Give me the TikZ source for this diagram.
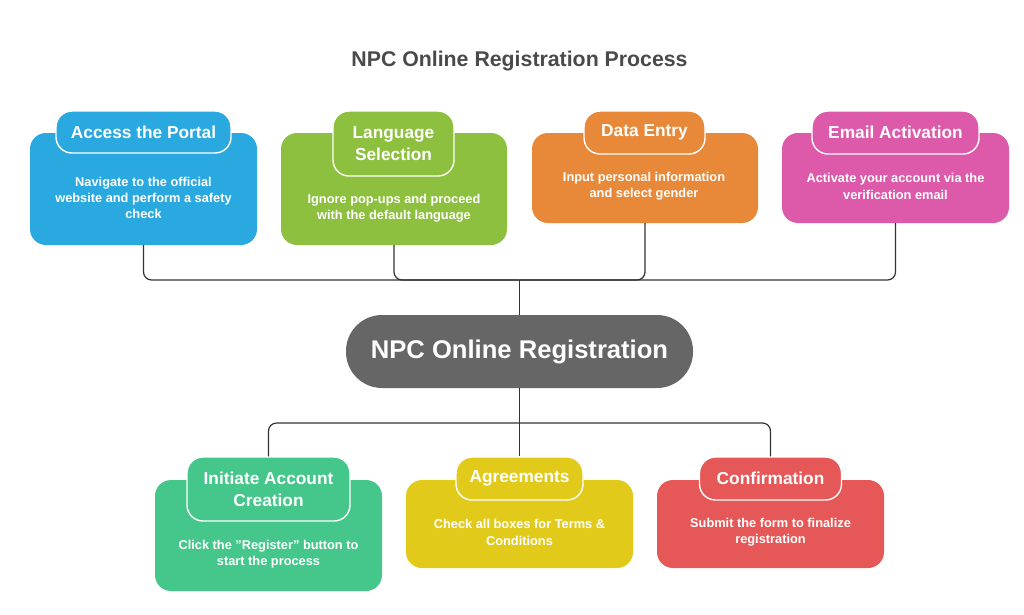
\documentclass[tikz,border=0pt]{standalone}
\usepackage{fontspec}
\setmainfont{Liberation Sans}
\definecolor{cBlue}{HTML}{2AA9E0}
\definecolor{cGreen}{HTML}{8DC03F}
\definecolor{cOrange}{HTML}{E8893A}
\definecolor{cPink}{HTML}{DD5AAB}
\definecolor{cTeal}{HTML}{45C68A}
\definecolor{cYellow}{HTML}{E2CA1B}
\definecolor{cRed}{HTML}{E65858}
\definecolor{cGray}{HTML}{666666}
\definecolor{cTitle}{HTML}{4A4A4A}
\definecolor{cLine}{HTML}{333333}
\begin{document}
\begin{tikzpicture}[x=1pt,y=-1pt,
  body/.style={draw=none, rounded corners=16pt, inner sep=0pt},
  tab/.style={draw=white, line width=1.4pt, rounded corners=16pt, inner sep=0pt, text=white, font=\bfseries\fontsize{17.3}{22}\selectfont, align=center},
  desc/.style={text=white, inner sep=0pt, font=\bfseries\fontsize{12.8}{16.3}\selectfont, align=center},
  conn/.style={draw=cLine, line width=1.2pt, rounded corners=8pt}]
\useasboundingbox[fill=white] (0,0) rectangle (1024,614);

\node[text=cTitle, font=\bfseries\fontsize{21.3}{25}\selectfont] (title) at (519.5,61) {NPC Online Registration Process};

% top row
\node[body, fill=cBlue, minimum width=227pt, minimum height=112pt] (b1) at (143.5,189) {};
\node[tab, fill=cBlue, minimum width=175pt, minimum height=42pt] (t1) at (143.5,132) {Access the Portal};
\node[desc] (d1) at (143.5,198) {Navigate to the official\\website and perform a safety\\check};

\node[body, fill=cGreen, minimum width=226pt, minimum height=112pt] (b2) at (394,189) {};
\node[tab, fill=cGreen, minimum width=121pt, minimum height=65pt] (t2) at (393.5,143.5) {Language\\Selection};
\node[desc] (d2) at (394,208) {Ignore pop-ups and proceed\\with the default language};

\node[body, fill=cOrange, minimum width=226pt, minimum height=90pt] (b3) at (645,178) {};
\node[tab, fill=cOrange, minimum width=121pt, minimum height=43pt] (t3) at (644.5,132.5) {Data Entry};
\node[desc] (d3) at (644,186.5) {Input personal information\\and select gender};

\node[body, fill=cPink, minimum width=227pt, minimum height=90pt] (b4) at (895.5,178) {};
\node[tab, fill=cPink, minimum width=167pt, minimum height=43pt] (t4) at (895.5,132.5) {Email Activation};
\node[desc] (d4) at (895.5,186.5) {Activate your account via the\\verification email};

% center
\node[fill=cGray, rounded corners=36pt, minimum width=347pt, minimum height=73pt, inner sep=0pt, text=white, font=\bfseries\fontsize{25.6}{30}\selectfont] (c) at (519.5,351.5) {NPC Online Registration};

% bottom row
\node[body, fill=cTeal, minimum width=227pt, minimum height=111pt] (b5) at (268.5,535.5) {};
\node[tab, fill=cTeal, minimum width=163pt, minimum height=64pt] (t5) at (268.5,489) {Initiate Account\\Creation};
\node[desc] (d5) at (268.5,554.5) {Click the \symbol{34}Register\symbol{34} button to\\start the process};

\node[body, fill=cYellow, minimum width=227pt, minimum height=88pt] (b6) at (519.5,524) {};
\node[tab, fill=cYellow, minimum width=127pt, minimum height=43pt] (t6) at (519.5,478.5) {Agreements};
\node[desc] (d6) at (519.5,532.5) {Check all boxes for Terms \&\\Conditions};

\node[body, fill=cRed, minimum width=227pt, minimum height=88pt] (b7) at (770.5,524) {};
\node[tab, fill=cRed, minimum width=142pt, minimum height=43pt] (t7) at (770.5,478.5) {Confirmation};
\node[desc] (d7) at (770.5,532.5) {Submit the form to finalize\\registration};

% connectors
\coordinate (hubT) at (519.5,280);
\coordinate (hubB) at (519.5,423);
\draw[conn] (b1.south) |- (hubT);
\draw[conn] (b2.south) |- (hubT);
\draw[conn] (b3.south) |- (hubT);
\draw[conn] (b4.south) |- (hubT);
\draw[conn] (hubT) -- (c.north);
\draw[conn] (c.south) -- (hubB);
\draw[conn] (hubB) -| (t5.north);
\draw[conn] (hubB) -| (t7.north);
\draw[conn] (hubB) -- (t6.north);
\end{tikzpicture}
\end{document}
